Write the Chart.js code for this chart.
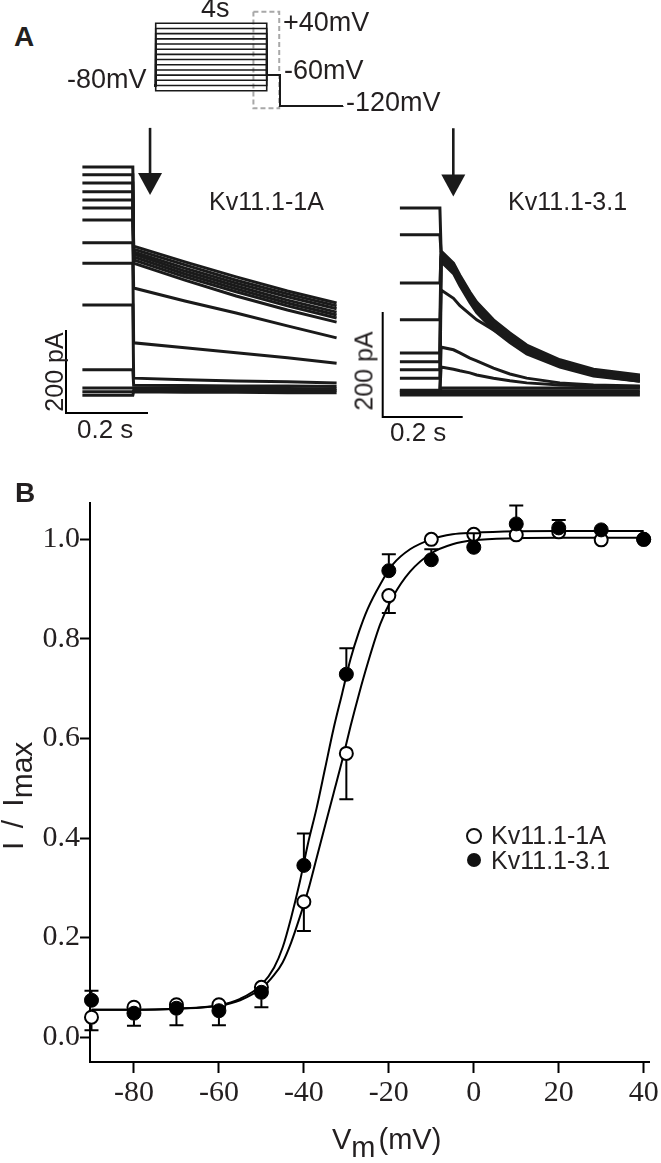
<!DOCTYPE html>
<html>
<head>
<meta charset="utf-8">
<script src="https://cdn.jsdelivr.net/npm/chart.js@4.4.1/dist/chart.umd.min.js"></script>
<style>
  html, body { margin: 0; padding: 0; background: #fff; }
  #fig { position: relative; width: 661px; height: 1163px; overflow: hidden;
         font-family: 'Liberation Sans', Arial, sans-serif; color: #231f20; }
  canvas { position: absolute; }
  .t { position: absolute; line-height: 1; white-space: nowrap; }
  .rot { transform: translate(-50%, -50%) rotate(-90deg); }
  .mk { position: absolute; border-radius: 50%; box-sizing: border-box; }
</style>
</head>
<body>
<div id="fig">
  <canvas id="proto" width="210" height="115" style="left:140px;top:0px"></canvas>
  <canvas id="trLeft" width="305" height="300" style="left:40px;top:120px"></canvas>
  <canvas id="trRight" width="311" height="310" style="left:350px;top:120px"></canvas>
  <canvas id="ivChart" width="661" height="693" style="left:0px;top:470px"></canvas>

  <div class="t" style="left:14px;top:23px;font-size:28px;font-weight:bold">A</div>
  <div class="t" style="left:15px;top:479px;font-size:28px;font-weight:bold">B</div>

  <div class="t" style="left:201px;top:-5px;font-size:27px">4s</div>
  <div class="t" style="left:283px;top:9px;font-size:27px">+40mV</div>
  <div class="t" style="left:284px;top:57px;font-size:27px">-60mV</div>
  <div class="t" style="left:67px;top:66px;font-size:27px">-80mV</div>
  <div class="t" style="left:346px;top:89px;font-size:27px">-120mV</div>

  <div class="t" style="left:209px;top:189px;font-size:25px">Kv11.1-1A</div>
  <div class="t" style="left:508px;top:189px;font-size:25px">Kv11.1-3.1</div>
  <div class="t rot" style="left:54px;top:372px;font-size:25px">200 pA</div>
  <div class="t rot" style="left:364px;top:371px;font-size:25px">200 pA</div>
  <div class="t" style="left:77px;top:416px;font-size:26px">0.2 s</div>
  <div class="t" style="left:390px;top:419px;font-size:26px">0.2 s</div>

  <div class="t" style="left:-2px;top:850px;font-size:30px;transform:rotate(-90deg);transform-origin:0 0;word-spacing:5px">I / I<span style="position:relative;top:9px">max</span></div>
  <div class="t" style="left:332px;top:1125px;font-size:29px">V<span style="position:relative;top:8px">m</span><span style="margin-left:3px">(mV)</span></div>

  <div class="mk" style="left:466px;top:828px;width:16px;height:16px;border:2px solid #111;background:#fff"></div>
  <div class="mk" style="left:467px;top:853px;width:14px;height:14px;background:#111"></div>
  <div class="t" style="left:491px;top:823px;font-size:25px">Kv11.1-1A</div>
  <div class="t" style="left:491px;top:848px;font-size:25px">Kv11.1-3.1</div>
</div>

<script>
// ---- Panel A: voltage protocol (mV, s)
const protoSteps = [-90, -80, -70, -60, -50, -40, -30, -20, -10, 0, 10, 20, 30, 40];
const protoHold = -80;
const protoTail = -60;
const protoEnd = -120;
const protoTimes = [-0.06, 0, 4, 4.48, 6.75];
const protoBox = { t0: 3.52, t1: 4.45, v0: -124, v1: 62 };

// ---- Panel A: current traces (pA, s); sweeps ordered +40 ... -90 mV
const sweepLabels = ['+40', '+30', '+20', '+10', '0', '-10', '-20', '-30', '-40', '-50', '-60', '-70', '-80', '-90'];

const leftStepT = [0.04, 0.163];
const leftStep = [593, 574, 554, 533, 513, 494, 465, 410, 361, 260, 104, 60, 51, 43];
const leftTailT = [0.165, 0.29, 0.415, 0.54, 0.66];
const leftTails = [
  [402, 364, 328, 294, 265],
  [395, 357, 320, 287, 258],
  [388, 349, 313, 280, 251],
  [383, 342, 306, 272, 243],
  [376, 335, 299, 265, 236],
  [369, 328, 292, 258, 229],
  [361, 320, 282, 248, 219],
  [301, 270, 241, 210, 181],
  [169, 157, 145, 133, 120],
  [84, 80, 77, 75, 72],
  [67, 66, 65, 65, 64],
  [60, 60, 59, 59, 58],
  [55, 55, 54, 54, 54],
  [51, 50, 50, 49, 49]
];

const rightStepT = [0.043, 0.143];
const rightStep = [398, 347, 255, 185, 122, 105, 90, 74, 51, 50, 48, 46, 44, 42];
const rightTailT = [0.146, 0.177, 0.193, 0.218, 0.235, 0.277, 0.318, 0.36, 0.443, 0.527, 0.643];
const rightTails = [
  [316, 293, 270, 238, 219, 185, 160, 137, 109, 91, 80],
  [313, 290, 267, 235, 216, 182, 157, 134, 107, 89, 78],
  [310, 287, 264, 232, 213, 179, 154, 131, 104, 87, 76],
  [307, 284, 261, 229, 210, 176, 151, 128, 102, 85, 74],
  [304, 281, 258, 226, 207, 173, 148, 126, 100, 83, 72],
  [300, 277, 254, 222, 203, 170, 145, 123, 97, 80, 70],
  [296, 273, 250, 218, 199, 166, 142, 120, 95, 78, 68],
  [242, 226, 212, 196, 185, 166, 146, 128, 100, 80, 68],
  [133, 128, 122, 112, 107, 93, 82, 74, 65, 61, 59],
  [95, 91, 88, 84, 80, 74, 69, 65, 61, 59, 57],
  [55, 55, 55, 55, 55, 55, 55, 55, 55, 55, 55],
  [50, 50, 50, 50, 50, 50, 50, 50, 50, 50, 50],
  [46, 46, 46, 46, 46, 46, 46, 46, 46, 46, 46],
  [42, 42, 42, 42, 42, 42, 42, 42, 42, 42, 42]
];

const scaleBarTime = 0.2;   // s
const scaleBarCurrent = 200; // pA

// ---- Panel B: normalised tail current vs Vm
const vm = [-90, -80, -70, -60, -50, -40, -30, -20, -10, 0, 10, 20, 30, 40];
const iOpen1A = [0.04, 0.06, 0.065, 0.065, 0.10, 0.272, 0.57, 0.887, 1.0, 1.01, 1.009, 1.015, 0.999, 1.0];
const iFilled31 = [0.074, 0.048, 0.058, 0.053, 0.09, 0.345, 0.729, 0.937, 0.959, 0.984, 1.031, 1.023, 1.019, 1.0];
const errLow1A = [0.014, null, null, null, null, 0.213, 0.478, 0.852, null, null, null, null, null, null];
const errHigh31 = [0.093, null, null, null, null, 0.409, 0.781, 0.97, 0.98, 1.012, 1.068, 1.039, null, null];
const errLow31 = [null, 0.023, 0.024, 0.024, 0.06, null, null, null, null, null, null, null, null, null];

const fitV = [-90, -80, -70, -60, -55, -50, -47, -45, -43, -41, -39, -37, -35, -33, -31, -29, -27, -25, -22, -19, -15, -10, -5, 0, 10, 20, 30, 40];
const fit1A = [0.055, 0.055, 0.057, 0.063, 0.074, 0.098, 0.125, 0.15, 0.19, 0.24, 0.295, 0.36, 0.425, 0.49, 0.555, 0.625, 0.69, 0.75, 0.83, 0.885, 0.935, 0.972, 0.99, 0.998, 1.002, 1.003, 1.003, 1.003];
const fit31 = [0.055, 0.055, 0.057, 0.064, 0.077, 0.105, 0.14, 0.18, 0.24, 0.31, 0.39, 0.46, 0.54, 0.62, 0.69, 0.76, 0.815, 0.86, 0.91, 0.95, 0.98, 1.0, 1.01, 1.013, 1.016, 1.017, 1.017, 1.017];

const xTicks = [-80, -60, -40, -20, 0, 20, 40];
const yTicks = [0, 0.2, 0.4, 0.6, 0.8, 1.0];

const INK = '#1a1a1a';

// arrow drawn in data units of a trace chart
const arrowPlugin = {
  id: 'arrow',
  afterDatasetsDraw(chart, args, opts) {
    if (!opts || opts.t === undefined) return;
    const { ctx, scales: { x, y } } = chart;
    const px = x.getPixelForValue(opts.t);
    const y0 = y.getPixelForValue(opts.from);
    const y1 = y.getPixelForValue(opts.to);
    ctx.save();
    ctx.strokeStyle = INK;
    ctx.fillStyle = INK;
    ctx.lineWidth = 2.6;
    ctx.beginPath();
    ctx.moveTo(px, y0);
    ctx.lineTo(px, y1 - 18);
    ctx.stroke();
    ctx.beginPath();
    ctx.moveTo(px - 12, y1 - 22);
    ctx.lineTo(px + 12, y1 - 22);
    ctx.lineTo(px, y1);
    ctx.closePath();
    ctx.fill();
    ctx.restore();
  }
};

// one-sided error bars with caps
const errorBarPlugin = {
  id: 'errorBars',
  afterDatasetsDraw(chart) {
    const { ctx, scales: { x, y } } = chart;
    ctx.save();
    ctx.strokeStyle = '#000';
    ctx.lineWidth = 2;
    const draw = (vals, ends) => {
      vm.forEach((v, i) => {
        if (ends[i] == null) return;
        const px = x.getPixelForValue(v);
        const py = y.getPixelForValue(vals[i]);
        const pe = y.getPixelForValue(ends[i]);
        const dir = pe < py ? -1 : 1;
        ctx.beginPath();
        if (Math.abs(pe - py) > 7) {
          ctx.moveTo(px, py + dir * 7);
          ctx.lineTo(px, pe);
        }
        ctx.moveTo(px - 7, pe);
        ctx.lineTo(px + 7, pe);
        ctx.stroke();
      });
    };
    draw(iOpen1A, errLow1A);
    draw(iFilled31, errHigh31);
    draw(iFilled31, errLow31);
    ctx.restore();
  }
};

const hiddenScales = (xmin, xmax, ymin, ymax) => ({
  x: { type: 'linear', display: false, min: xmin, max: xmax },
  y: { type: 'linear', display: false, min: ymin, max: ymax }
});

const baseOpts = {
  responsive: false,
  animation: false,
  devicePixelRatio: 1,
  layout: { padding: 0 },
  plugins: { legend: { display: false }, tooltip: { enabled: false } }
};

const lineSet = (data, extra) => Object.assign({
  data, showLine: true, pointRadius: 0, borderColor: INK, borderWidth: 1.6,
  tension: 0, clip: false
}, extra || {});

// ---- protocol chart
const protoSets = protoSteps.map(v => lineSet([
  { x: protoTimes[0], y: protoHold }, { x: protoTimes[1], y: protoHold },
  { x: protoTimes[1], y: v }, { x: protoTimes[2], y: v },
  { x: protoTimes[2], y: protoTail }, { x: protoTimes[3], y: protoTail },
  { x: protoTimes[3], y: protoEnd }, { x: protoTimes[4], y: protoEnd }
]));
protoSets.push(lineSet([
  { x: protoBox.t0, y: protoBox.v1 }, { x: protoBox.t1, y: protoBox.v1 },
  { x: protoBox.t1, y: protoBox.v0 }, { x: protoBox.t0, y: protoBox.v0 },
  { x: protoBox.t0, y: protoBox.v1 }
], { borderColor: '#a8a8a8', borderWidth: 2, borderDash: [5, 3] }));

new Chart(document.getElementById('proto'), {
  type: 'scatter',
  data: { datasets: protoSets },
  options: Object.assign({}, baseOpts, { scales: hiddenScales(-0.566, 7.0, -136.9, 84.9) })
});

// ---- trace charts
function traceSets(stepT, steps, tailT, tails) {
  const sets = steps.map((s, i) => lineSet(
    [{ x: stepT[0], y: s }, { x: stepT[1], y: s }]
      .concat(tailT.map((t, j) => ({ x: t, y: tails[i][j] }))),
    { borderWidth: 3, label: sweepLabels[i] }
  ));
  sets.push(lineSet([
    { x: 0, y: scaleBarCurrent }, { x: 0, y: 0 }, { x: scaleBarTime, y: 0 }
  ], { borderWidth: 2, borderColor: '#000' }));
  return sets;
}

new Chart(document.getElementById('trLeft'), {
  type: 'scatter',
  data: { datasets: traceSets(leftStepT, leftStep, leftTailT, leftTails) },
  options: Object.assign({}, baseOpts, {
    scales: hiddenScales(-0.0634, 0.6805, -16.9, 706),
    plugins: { legend: { display: false }, tooltip: { enabled: false },
               arrow: { t: 0.205, from: 687, to: 525 } }
  }),
  plugins: [arrowPlugin]
});

new Chart(document.getElementById('trRight'), {
  type: 'scatter',
  data: { datasets: traceSets(rightStepT, rightStep, rightTailT, rightTails) },
  options: Object.assign({}, baseOpts, {
    scales: hiddenScales(-0.08175, 0.69575, -24.76, 565.7),
    plugins: { legend: { display: false }, tooltip: { enabled: false },
               arrow: { t: 0.1765, from: 550, to: 420 } }
  }),
  plugins: [arrowPlugin]
});

// ---- panel B
const serif = "'Liberation Serif', 'Times New Roman', serif";
const pts = (ys) => vm.map((v, i) => ({ x: v, y: ys[i] }));
const curve = (ys) => fitV.map((v, i) => ({ x: v, y: ys[i] }));

new Chart(document.getElementById('ivChart'), {
  type: 'scatter',
  data: {
    datasets: [
      { label: 'Kv11.1-3.1', data: pts(iFilled31), order: 0, pointRadius: 7,
        backgroundColor: '#000', borderColor: '#000', borderWidth: 1, clip: false },
      { label: 'Kv11.1-1A', data: pts(iOpen1A), order: 1, pointRadius: 6.5,
        backgroundColor: '#fff', borderColor: '#000', borderWidth: 2, clip: false },
      { label: 'fit 3.1', data: curve(fit31), order: 2, showLine: true, pointRadius: 0,
        borderColor: '#000', borderWidth: 2, cubicInterpolationMode: 'monotone', clip: false },
      { label: 'fit 1A', data: curve(fit1A), order: 3, showLine: true, pointRadius: 0,
        borderColor: '#000', borderWidth: 2, cubicInterpolationMode: 'monotone', clip: false }
    ]
  },
  options: Object.assign({}, baseOpts, {
    layout: { padding: { left: 0, top: 33, right: 12, bottom: 0 } },
    scales: {
      x: {
        type: 'linear', min: -90.35, max: 41.25,
        afterBuildTicks: s => { s.ticks = xTicks.map(v => ({ value: v })); },
        afterFit: s => { s.height = 101; },
        ticks: { font: { family: serif, size: 30 }, color: '#231f20', padding: 2,
                 maxRotation: 0, callback: v => String(v) },
        grid: { drawOnChartArea: false, tickLength: 11, tickWidth: 2, tickColor: '#000' },
        border: { color: '#000', width: 2 }
      },
      y: {
        type: 'linear', min: -0.05, max: 1.073,
        afterBuildTicks: s => { s.ticks = yTicks.map(v => ({ value: v })); },
        afterFit: s => { s.width = 90; },
        ticks: { font: { family: serif, size: 30 }, color: '#231f20', padding: 0,
                 callback: v => v.toFixed(1) },
        grid: { drawOnChartArea: false, tickLength: 10, tickWidth: 2, tickColor: '#000' },
        border: { color: '#000', width: 2 }
      }
    }
  }),
  plugins: [errorBarPlugin]
});
</script>
</body>
</html>
